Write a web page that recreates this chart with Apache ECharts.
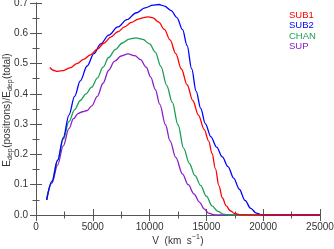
<!DOCTYPE html>
<html><head><meta charset="utf-8">
<script src="https://cdn.jsdelivr.net/npm/echarts@6/dist/echarts.min.js"></script>
<style>html,body{margin:0;padding:0;background:#fff}#c{width:334px;height:249px}</style>
</head><body><div id="c"></div>
<script>
const seriesNames = ['SUB1', 'SUB2', 'CHAN', 'SUP'];
const sub1 = [[1230,0.487],[1500,0.478],[1900,0.474],[2400,0.477],[3000,0.486],[3600,0.500],[4200,0.514],[4800,0.529],[5400,0.548],[6000,0.568],[6600,0.588],[7200,0.605],[7800,0.621],[8400,0.636],[9000,0.647],[9500,0.652],[9900,0.654],[10300,0.651],[10800,0.637],[11300,0.613],[11800,0.578],[12300,0.533],[12800,0.482],[13300,0.430],[13800,0.378],[14300,0.330],[14800,0.283],[15200,0.244],[15500,0.203],[15800,0.152],[16100,0.097],[16400,0.057],[16750,0.030],[17100,0.014],[17500,0.005],[18000,0.001],[18500,0],[25000,0]];
const sub2 = [[940,0.050],[1400,0.110],[1900,0.180],[2400,0.255],[2900,0.330],[3400,0.392],[3900,0.443],[4500,0.492],[5100,0.533],[5700,0.565],[6400,0.594],[7200,0.621],[8000,0.645],[8800,0.667],[9600,0.684],[10300,0.693],[10800,0.695],[11300,0.690],[11900,0.675],[12400,0.652],[12900,0.612],[13300,0.560],[13700,0.483],[14100,0.408],[14500,0.352],[14900,0.302],[15400,0.258],[15900,0.224],[16400,0.192],[16900,0.160],[17400,0.122],[17900,0.085],[18400,0.048],[18900,0.022],[19400,0.006],[19900,0],[25000,0]];
const chan = [[940,0.050],[1400,0.112],[1900,0.182],[2400,0.250],[2900,0.308],[3400,0.348],[3900,0.378],[4400,0.400],[4900,0.422],[5400,0.452],[5900,0.488],[6400,0.520],[7000,0.547],[7600,0.568],[8200,0.581],[8800,0.585],[9400,0.580],[10000,0.565],[10500,0.538],[11000,0.490],[11500,0.428],[12000,0.372],[12500,0.298],[13000,0.220],[13500,0.170],[14000,0.130],[14500,0.097],[15000,0.062],[15500,0.030],[16000,0.012],[16500,0.003],[17000,0],[25000,0]];
const sup = [[940,0.050],[1400,0.105],[1900,0.165],[2400,0.228],[2900,0.285],[3300,0.318],[3700,0.335],[4100,0.341],[4500,0.345],[4900,0.360],[5400,0.392],[5900,0.435],[6400,0.478],[6900,0.507],[7500,0.525],[8100,0.532],[8700,0.526],[9200,0.513],[9700,0.488],[10100,0.455],[10500,0.415],[10900,0.365],[11400,0.298],[11800,0.245],[12300,0.190],[12900,0.135],[13400,0.100],[13900,0.070],[14400,0.042],[14800,0.020],[15200,0.006],[15600,0.001],[16000,0],[25000,0]];
const colors = ['#ff0000', '#0000ff', '#1a9e55', '#8a1fc8'];
const xTickLabels = ['0', '5000', '10000', '15000', '20000', '25000'];
const yTickLabels = ['0.0', '0.1', '0.2', '0.3', '0.4', '0.5', '0.6', '0.7'];
// title pieces: [text, shift] (0 normal, 1 subscript, -1 superscript)
const yTitleParts = [['E', 0], ['dep', 1], ['(positrons)/E', 0], ['dep', 1], ['(total)', 0]];
const xTitleParts = [['V  (km  s', 0], ['\u22121', -1], [')', 0]];

const font = 'Liberation Sans';
const axisCol = '#555';
const txtCol = '#333';
const ctx = document.createElement('canvas').getContext('2d');
function titleGroup(parts, cx, cy, rotated) {
  const pieces = [];
  let w = 0;
  parts.forEach(([t, s]) => {
    const size = s === 0 ? 10 : 7;
    ctx.font = size + 'px "' + font + '"';
    const tw = ctx.measureText(t).width;
    pieces.push({t, s, size, x: w});
    w += tw + (s === 0 ? 0 : 0.5);
  });
  const children = pieces.map(p => ({
    type: 'text', silent: true,
    style: {text: p.t, x: p.x, y: p.s === 1 ? 3 : (p.s === -1 ? -4 : 0),
      font: p.size + 'px "' + font + '"', fill: txtCol, align: 'left', verticalAlign: 'middle'}
  }));
  return rotated
    ? {type: 'group', x: cx, y: cy + w / 2, rotation: Math.PI / 2, children, silent: true}
    : {type: 'group', x: cx - w / 2, y: cy, children, silent: true};
}
function baseAxis(extra) {
  return Object.assign({
    axisLine: {show: true, lineStyle: {color: axisCol, width: 1}},
    axisTick: {show: true, inside: true, length: 6, lineStyle: {color: axisCol}},
    minorTick: {show: true, splitNumber: 2, length: 3.5, lineStyle: {color: axisCol}},
    splitLine: {show: false},
    minorSplitLine: {show: false}
  }, extra);
}
const chart = echarts.init(document.getElementById('c'), null, {renderer: 'canvas'});
const data = [sub1, sub2, chan, sup];
chart.setOption({
  animation: false,
  grid: {left: 36, right: 14, top: 3, bottom: 34, containLabel: false, outerBoundsMode: 'none'},
  legend: {
    orient: 'vertical', left: 284, top: 10, padding: 0, itemGap: 0.5,
    itemWidth: 0, itemHeight: 0, icon: 'rect', selectedMode: false,
    textStyle: {fontFamily: font, fontSize: 9.5},
    data: seriesNames.map((n, i) => ({name: n, textStyle: {color: colors[i]}}))
  },
  graphic: [titleGroup(yTitleParts, 7, 110, true), titleGroup(xTitleParts, 178, 241, false)],
  xAxis: [
    baseAxis({type: 'value', min: 0, max: 25000, interval: 5000, position: 'bottom',
      axisLabel: {color: txtCol, fontFamily: font, fontSize: 10, margin: 7,
        formatter: v => xTickLabels[Math.round(v / 5000)]}}),
    baseAxis({type: 'value', min: 0, max: 25000, interval: 5000, position: 'top',
      axisLabel: {show: false}})
  ],
  yAxis: [
    baseAxis({type: 'value', min: 0, max: 0.7, interval: 0.1, position: 'left',
      axisLabel: {color: txtCol, fontFamily: font, fontSize: 10, margin: 8,
        formatter: v => yTickLabels[Math.round(v * 10)]}}),
    baseAxis({type: 'value', min: 0, max: 0.7, interval: 0.1, position: 'right',
      axisLabel: {show: false}})
  ],
  series: seriesNames.map((n, i) => ({
    name: n, type: 'line', data: data[i], showSymbol: false, smooth: 0.35,
    smoothMonotone: 'x', clip: true, z: 10 - i,
    lineStyle: {color: colors[i], width: 1.3}, itemStyle: {color: colors[i]}
  }))
});
</script></body></html>
